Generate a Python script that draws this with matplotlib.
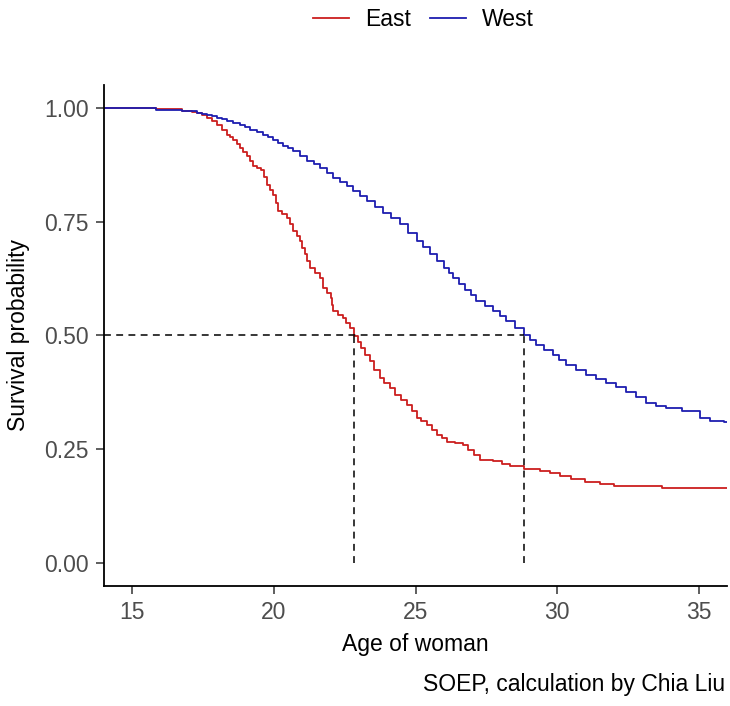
import matplotlib.pyplot as plt

plt.rcParams['font.family'] = ['Liberation Sans', 'DejaVu Sans']

# Kaplan-Meier estimates: age at which survival drops, and survival after the drop
east_age = [14.0, 15.85, 16.74, 17.10, 17.27, 17.45, 17.63, 17.80, 17.98, 18.15,
            18.33, 18.45, 18.57, 18.70, 18.80, 18.92, 19.04, 19.15, 19.27, 19.40,
            19.56, 19.65, 19.74, 19.86, 19.98, 20.06, 20.15, 20.30, 20.45, 20.56,
            20.68, 20.80, 20.92, 21.00, 21.09, 21.18, 21.27, 21.45, 21.62, 21.74,
            21.88, 22.02, 22.05, 22.10, 22.25, 22.43, 22.55, 22.67, 22.84, 22.96,
            23.08, 23.23, 23.38, 23.55, 23.73, 23.90, 24.09, 24.27, 24.48, 24.69,
            24.86, 25.04, 25.20, 25.39, 25.57, 25.75, 25.92, 26.10, 26.40, 26.69,
            26.87, 27.05, 27.28, 27.75, 28.05, 28.35, 28.82, 29.39, 29.75, 30.10,
            30.50, 31.00, 31.50, 32.00, 33.70, 36.0]
east_surv = [1.000, 0.997, 0.994, 0.991, 0.989, 0.984, 0.978, 0.971, 0.963, 0.952,
             0.941, 0.936, 0.930, 0.921, 0.912, 0.903, 0.894, 0.883, 0.872, 0.868,
             0.864, 0.848, 0.831, 0.820, 0.809, 0.791, 0.773, 0.766, 0.758, 0.744,
             0.729, 0.718, 0.707, 0.692, 0.678, 0.663, 0.648, 0.637, 0.626, 0.604,
             0.593, 0.582, 0.567, 0.553, 0.546, 0.538, 0.527, 0.516, 0.498, 0.486,
             0.473, 0.458, 0.443, 0.425, 0.407, 0.396, 0.385, 0.370, 0.359, 0.348,
             0.334, 0.319, 0.312, 0.304, 0.293, 0.282, 0.275, 0.267, 0.263, 0.260,
             0.249, 0.238, 0.227, 0.224, 0.218, 0.213, 0.207, 0.202, 0.197, 0.191,
             0.185, 0.178, 0.174, 0.169, 0.165, 0.165]

west_age = [14.0, 15.85, 16.74, 17.00, 17.27, 17.45, 17.63, 17.80, 17.98, 18.15,
            18.33, 18.55, 18.80, 18.98, 19.16, 19.40, 19.62, 19.80, 19.98, 20.15,
            20.33, 20.50, 20.68, 20.92, 21.16, 21.40, 21.62, 21.86, 22.10, 22.33,
            22.57, 22.80, 23.04, 23.27, 23.56, 23.86, 24.15, 24.45, 24.75, 25.04,
            25.27, 25.50, 25.75, 26.00, 26.17, 26.33, 26.55, 26.75, 26.95, 27.15,
            27.45, 27.74, 27.98, 28.21, 28.50, 28.83, 29.05, 29.27, 29.55, 29.85,
            30.08, 30.32, 30.68, 31.03, 31.38, 31.73, 32.08, 32.44, 32.80, 33.15,
            33.50, 33.85, 34.40, 35.05, 35.40, 35.91, 36.0]
west_surv = [1.000, 0.996, 0.994, 0.992, 0.989, 0.987, 0.985, 0.981, 0.978, 0.975,
             0.971, 0.967, 0.963, 0.958, 0.952, 0.947, 0.941, 0.936, 0.930, 0.923,
             0.916, 0.911, 0.905, 0.894, 0.883, 0.876, 0.868, 0.857, 0.846, 0.837,
             0.828, 0.817, 0.806, 0.795, 0.782, 0.769, 0.757, 0.744, 0.726, 0.707,
             0.694, 0.680, 0.664, 0.648, 0.637, 0.626, 0.613, 0.600, 0.588, 0.575,
             0.564, 0.553, 0.542, 0.531, 0.516, 0.500, 0.490, 0.480, 0.469, 0.458,
             0.447, 0.436, 0.425, 0.414, 0.405, 0.396, 0.386, 0.377, 0.364, 0.352,
             0.346, 0.341, 0.335, 0.319, 0.313, 0.310, 0.310]

median_east = 22.84
median_west = 28.83

red = '#CC1F1F'
blue = '#1E1EB0'
txt_size = 16.5

fig = plt.figure(figsize=(7.30, 7.06), dpi=100)
ax = fig.add_axes([0.1425, 0.170, 0.8534, 0.7096])

ax.step(east_age, east_surv, where='post', color=red, lw=1.3, label='East')
ax.step(west_age, west_surv, where='post', color=blue, lw=1.3, label='West')

# median survival guides
dash = (0, (4.5, 3.5))
ax.plot([14, median_west], [0.5, 0.5], color='black', lw=1.1, linestyle=dash)
for m in (median_east, median_west):
    ax.plot([m, m], [0, 0.5], color='black', lw=1.1, linestyle=dash)

ax.set_xlim(14, 36)
ax.set_ylim(-0.05, 1.05)
ax.set_xticks([15, 20, 25, 30, 35])
ax.set_yticks([0, 0.25, 0.5, 0.75, 1.0])
ax.set_yticklabels(['0.00', '0.25', '0.50', '0.75', '1.00'])

for s in ('top', 'right'):
    ax.spines[s].set_visible(False)
for s in ('left', 'bottom'):
    ax.spines[s].set_linewidth(1.3)
ax.tick_params(length=6, width=1.1, color='#333333', labelsize=txt_size,
               labelcolor='#4D4D4D', pad=5)

ax.set_xlabel('Age of woman', fontsize=txt_size, labelpad=6)
ax.set_ylabel('Survival probability', fontsize=txt_size, labelpad=10)

fig.legend(loc='center', bbox_to_anchor=(0.58, 0.972), ncol=2, frameon=False,
           fontsize=txt_size, handlelength=1.6, handletextpad=0.7,
           columnspacing=0.8)

fig.text(0.993, 0.030, 'SOEP, calculation by Chia Liu', ha='right', va='center',
         fontsize=txt_size)

fig.savefig('out.png', dpi=100)
